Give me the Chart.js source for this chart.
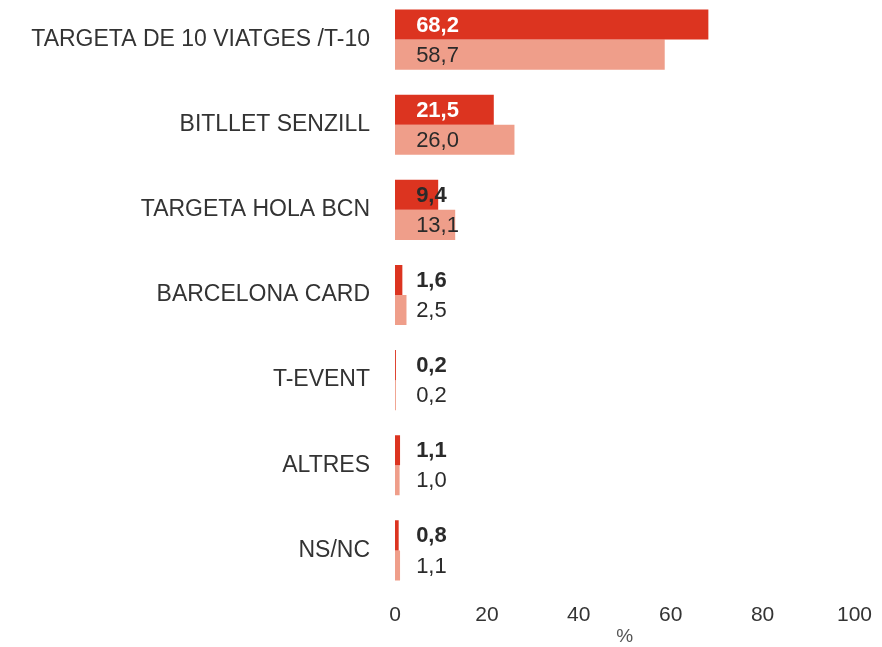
<!DOCTYPE html>
<html>
<head>
<meta charset="utf-8">
<script src="https://cdn.jsdelivr.net/npm/chart.js@4/dist/chart.umd.min.js"></script>
<style>
  html, body { margin: 0; padding: 0; background: #fff; overflow: hidden; }
  #wrap { position: absolute; left: 0; top: -3px; width: 882px; height: 651px; }
</style>
</head>
<body>
<div id="wrap"><canvas id="grafic"></canvas></div>
<script>
const categories = [
  "TARGETA DE 10 VIATGES /T-10",
  "BITLLET SENZILL",
  "TARGETA HOLA BCN",
  "BARCELONA CARD",
  "T-EVENT",
  "ALTRES",
  "NS/NC"
];
const serieA = [68.2, 21.5, 9.4, 1.6, 0.2, 1.1, 0.8];
const serieB = [58.7, 26.0, 13.1, 2.5, 0.2, 1.0, 1.1];
const xTicks = [0, 20, 40, 60, 80, 100];

const FONT = "'Liberation Sans', Arial, sans-serif";
const fmt = (v) => v.toFixed(1).replace(".", ",");

// etiquetes de valor, alineades a l'esquerra prop de l'eix
const etiquetes = {
  id: "etiquetes",
  afterDatasetsDraw(chart) {
    const ctx = chart.ctx;
    const x = chart.scales.x;
    chart.data.datasets.forEach((ds, i) => {
      const meta = chart.getDatasetMeta(i);
      meta.data.forEach((bar, j) => {
        const v = ds.data[j];
        const px = x.getPixelForValue(4.6);
        ctx.save();
        ctx.font = (i === 0 ? "bold " : "") + "22px " + FONT;
        ctx.textAlign = "left";
        ctx.textBaseline = "middle";
        if (i === 0 && v > 15) ctx.fillStyle = "#ffffff";
        else ctx.fillStyle = "#2a2a2a";
        ctx.fillText(fmt(v), px, bar.y + 1);
        ctx.restore();
      });
    });
  }
};

new Chart(document.getElementById("grafic"), {
  type: "bar",
  data: {
    labels: categories,
    datasets: [
      { label: "A", data: serieA, backgroundColor: "#dc3420", categoryPercentage: 0.706, barPercentage: 1 },
      { label: "B", data: serieB, backgroundColor: "#ef9e8a", categoryPercentage: 0.706, barPercentage: 1 }
    ]
  },
  options: {
    indexAxis: "y",
    responsive: true,
    maintainAspectRatio: false,
    animation: false,
    layout: { padding: { top: 0, right: 25, left: 0, bottom: 0 } },
    plugins: { legend: { display: false }, tooltip: { enabled: false } },
    scales: {
      x: {
        min: 0,
        max: 100,
        afterBuildTicks: (s) => { s.ticks = xTicks.map((v) => ({ value: v })); },
        grid: { display: false, drawTicks: false },
        border: { display: false },
        ticks: { color: "#333", font: { size: 21, family: FONT }, padding: 10 },
        title: { display: true, text: "%", color: "#555", font: { size: 19, family: FONT }, padding: { top: 0, bottom: 0 } },
        afterFit: (s) => { s.height = 55; }
      },
      y: {
        grid: { display: false, drawTicks: false },
        border: { display: false },
        ticks: { color: "#333", font: { size: 23, family: FONT }, padding: 25 },
        afterFit: (s) => { s.width = 395; s.paddingTop = 0; s.paddingBottom = 0; }
      }
    }
  },
  plugins: [etiquetes]
});
</script>
</body>
</html>
